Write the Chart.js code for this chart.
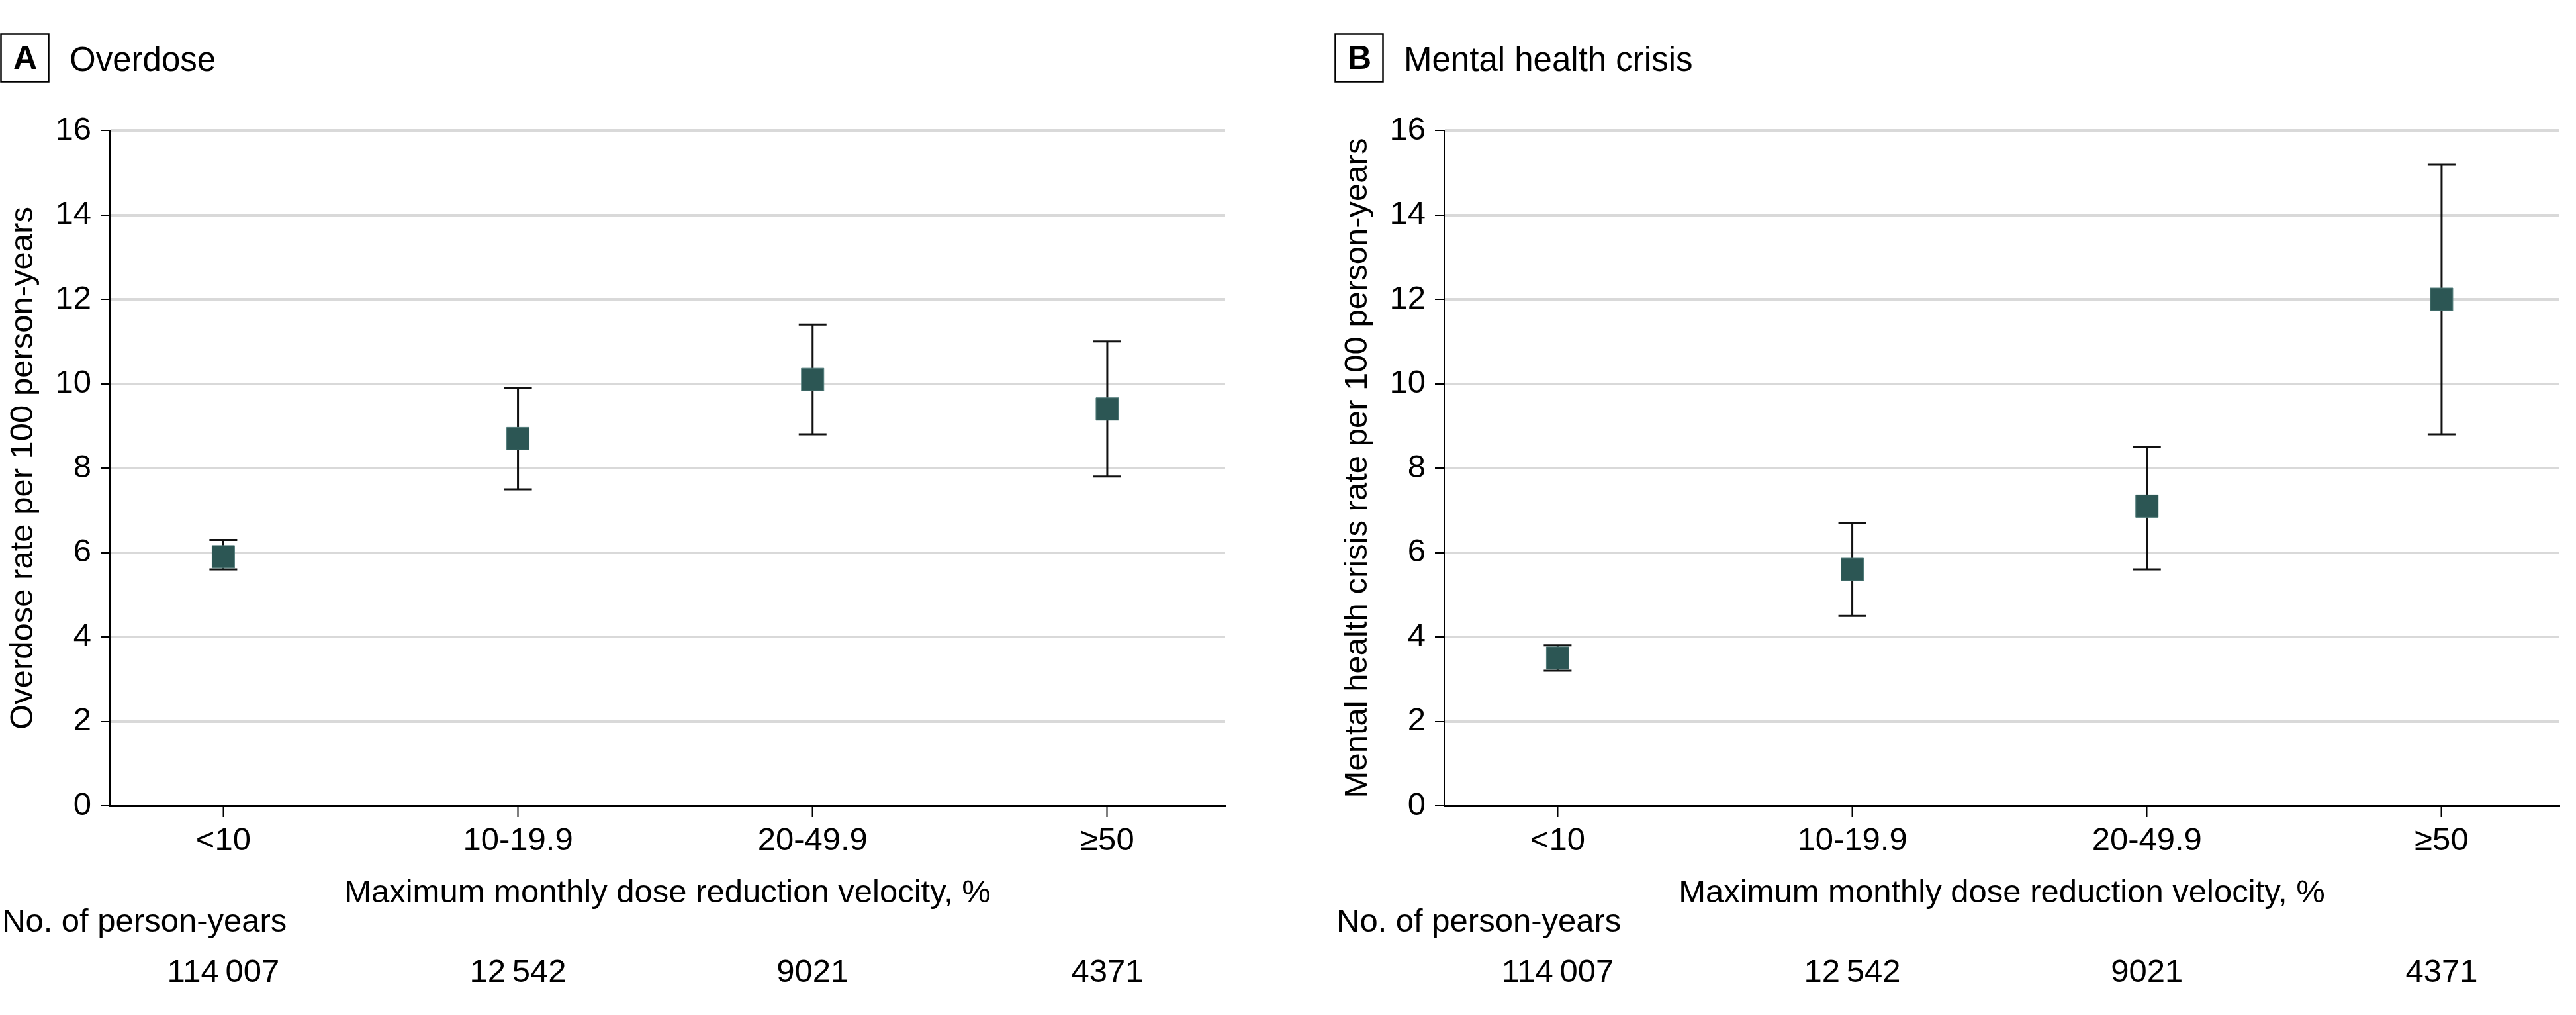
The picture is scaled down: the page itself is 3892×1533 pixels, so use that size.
<!DOCTYPE html>
<html>
<head>
<meta charset="utf-8">
<script src="https://cdn.jsdelivr.net/npm/chart.js@4.4.1/dist/chart.umd.min.js"></script>
<style>
  body { margin: 0; background: #fff; width: 3892px; height: 1533px; position: relative; overflow: hidden; }
  .panel { position: absolute; top: 0; width: 1876px; height: 1533px; }
</style>
</head>
<body>
<div class="panel" style="left:0"><canvas id="chartA" width="1876" height="1533"></canvas></div>
<div class="panel" style="left:2016px"><canvas id="chartB" width="1876" height="1533"></canvas></div>
<script>
// categories / tick labels
const categories = ['<10', '10-19.9', '20-49.9', '≥50'];
const personYears = ['114\u2009007', '12\u2009542', '9021', '4371'];
const yTickValues = [0, 2, 4, 6, 8, 10, 12, 14, 16];

// A: overdose rate per 100 person-years, with 95% CI
const overdoseRate = [5.9, 8.7, 10.1, 9.4];
const overdoseLower = [5.6, 7.5, 8.8, 7.8];
const overdoseUpper = [6.3, 9.9, 11.4, 11.0];

// B: mental health crisis rate per 100 person-years, with 95% CI
const mentalRate = [3.5, 5.6, 7.1, 12.0];
const mentalLower = [3.2, 4.5, 5.6, 8.8];
const mentalUpper = [3.8, 6.7, 8.5, 15.2];

const FONT = '"Liberation Sans", Arial, sans-serif';
Chart.defaults.font.family = FONT;
Chart.defaults.color = '#000';

// whiskers drawn behind the squares
const errorBarPlugin = {
    id: 'errorBars',
    beforeDatasetsDraw(chart, args, opts) {
        const ctx = chart.ctx;
        const xs = chart.scales.x;
        const ys = chart.scales.y;
        ctx.save();
        ctx.strokeStyle = '#111';
        ctx.lineWidth = 3;
        opts.lower.forEach((lo, i) => {
            const x = xs.getPixelForValue(i);
            const y1 = ys.getPixelForValue(lo);
            const y2 = ys.getPixelForValue(opts.upper[i]);
            ctx.beginPath();
            ctx.moveTo(x, y1); ctx.lineTo(x, y2);
            ctx.moveTo(x - 21, y1); ctx.lineTo(x + 21, y1);
            ctx.moveTo(x - 21, y2); ctx.lineTo(x + 21, y2);
            ctx.stroke();
        });
        ctx.restore();
    }
};

// panel letter box, title and person-years row
const panelTextPlugin = {
    id: 'panelText',
    afterDraw(chart, args, opts) {
        const ctx = chart.ctx;
        const xs = chart.scales.x;
        ctx.save();
        ctx.fillStyle = '#000';
        ctx.strokeStyle = '#000';
        ctx.lineWidth = 2.5;
        ctx.strokeRect(1.5, 51.5, 72, 72);

        ctx.font = 'bold 50px ' + FONT;
        ctx.textAlign = 'center';
        ctx.textBaseline = 'alphabetic';
        ctx.fillText(opts.letter, 38, 104);

        ctx.font = '51px ' + FONT;
        ctx.textAlign = 'left';
        ctx.fillText(opts.title, 105, 107);

        ctx.font = '49px ' + FONT;
        ctx.fillText('No. of person-years', 3, 1407);

        ctx.textAlign = 'center';
        personYears.forEach((label, i) => {
            ctx.fillText(label, xs.getPixelForValue(i), 1483);
        });
        ctx.restore();
    }
};

function createPanel(canvasId, letter, title, yTitle, rate, lower, upper) {
    const ctx = document.getElementById(canvasId).getContext('2d');
    return new Chart(ctx, {
        type: 'scatter',
        data: {
            datasets: [{
                data: rate.map((v, i) => ({ x: i, y: v })),
                pointStyle: 'rect',
                pointRadius: 24,
                pointHoverRadius: 24,
                backgroundColor: '#2c5654',
                borderColor: '#4f7a78',
                borderWidth: 1
            }]
        },
        options: {
            responsive: false,
            animation: false,
            devicePixelRatio: 1,
            layout: { padding: { top: 197, bottom: 159, left: 0, right: 3 } },
            plugins: {
                legend: { display: false },
                tooltip: { enabled: false },
                errorBars: { lower: lower, upper: upper },
                panelText: { letter: letter, title: title }
            },
            scales: {
                x: {
                    type: 'linear',
                    min: -0.385,
                    max: 3.4,
                    afterBuildTicks: s => { s.ticks = categories.map((c, i) => ({ value: i })); },
                    afterFit: s => { s.height = 157; },
                    ticks: {
                        callback: v => categories[v],
                        padding: 12,
                        color: '#000',
                        maxRotation: 0,
                        autoSkip: false,
                        font: { size: 49, lineHeight: 1 }
                    },
                    grid: {
                        drawOnChartArea: false,
                        drawTicks: true,
                        tickLength: 17,
                        tickColor: '#000',
                        tickWidth: 2
                    },
                    border: { color: '#000', width: 3 },
                    title: {
                        display: true,
                        text: 'Maximum monthly dose reduction velocity, %',
                        color: '#000',
                        font: { size: 49, lineHeight: 1 },
                        padding: { top: 0, bottom: 0 }
                    }
                },
                y: {
                    min: 0,
                    max: 16,
                    afterBuildTicks: s => { s.ticks = yTickValues.map(v => ({ value: v })); },
                    afterFit: s => { s.width = 166; },
                    ticks: {
                        padding: 14,
                        color: '#000',
                        font: { size: 49, lineHeight: 1 }
                    },
                    grid: {
                        color: c => (c.tick && c.tick.value === 0) ? 'rgba(0,0,0,0)' : '#d9d9d9',
                        lineWidth: 4,
                        tickLength: 14,
                        tickColor: '#000',
                        tickWidth: 2
                    },
                    border: { color: '#000', width: 2 },
                    title: {
                        display: true,
                        text: yTitle,
                        color: '#000',
                        font: { size: 49, lineHeight: 1 },
                        padding: { top: 11, bottom: 0 }
                    }
                }
            }
        },
        plugins: [errorBarPlugin, panelTextPlugin]
    });
}

createPanel('chartA', 'A', 'Overdose', 'Overdose rate per 100 person-years',
    overdoseRate, overdoseLower, overdoseUpper);
createPanel('chartB', 'B', 'Mental health crisis', 'Mental health crisis rate per 100 person-years',
    mentalRate, mentalLower, mentalUpper);
</script>
</body>
</html>
